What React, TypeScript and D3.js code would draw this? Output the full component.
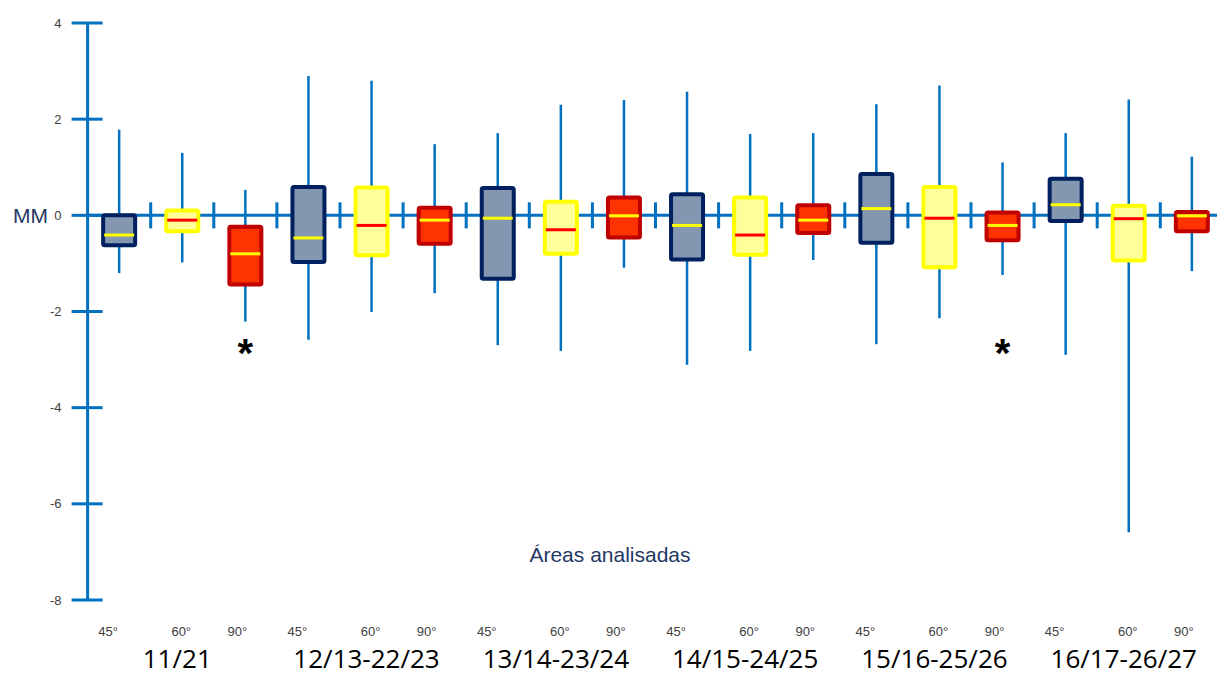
import React from "react";
import * as d3 from "d3";

// áreas analisadas e ângulos
const groups = ["11/21", "12/13-22/23", "13/14-23/24", "14/15-24/25", "15/16-25/26", "16/17-26/27"];
const angles = ["45°", "60°", "90°"];

// boxplot values, one per box (group x angle), in MM
const mins = [-1.2, -0.98, -2.21, -2.59, -2.01, -1.62, -2.7, -2.82, -1.09, -3.11, -2.82, -0.93, -2.68, -2.14, -1.24, -2.9, -6.59, -1.16];
const q1s = [-0.62, -0.33, -1.44, -0.97, -0.83, -0.59, -1.32, -0.8, -0.46, -0.92, -0.82, -0.37, -0.57, -1.08, -0.52, -0.12, -0.94, -0.33];
const medians = [-0.41, -0.1, -0.8, -0.47, -0.21, -0.1, -0.06, -0.3, -0.01, -0.21, -0.41, -0.1, 0.14, -0.06, -0.21, 0.22, -0.07, -0.01];
const q3s = [0.0, 0.1, -0.24, 0.59, 0.58, 0.16, 0.57, 0.28, 0.37, 0.44, 0.37, 0.21, 0.86, 0.59, 0.06, 0.76, 0.2, 0.07];
const maxs = [1.78, 1.3, 0.53, 2.9, 2.8, 1.48, 1.71, 2.3, 2.4, 2.57, 1.69, 1.71, 2.31, 2.7, 1.1, 1.71, 2.41, 1.22];

// boxes marked with *
const marked = [2, 14];
const yTicks = [4, 2, 0, -2, -4, -6, -8];

const styles: Record<string, { fill: string; stroke: string; median: string; labelDx: number }> = {
  "45°": { fill: "#8497B0", stroke: "#002060", median: "#FFFF00", labelDx: -11 },
  "60°": { fill: "#FFFF99", stroke: "#FFFF00", median: "#FF0000", labelDx: -1 },
  "90°": { fill: "#FF3300", stroke: "#C00000", median: "#FFFF00", labelDx: -8 },
};

const BLUE = "#0070C0";
const NAVY = "#1F3864";
const NARROW = "'Liberation Sans Narrow', 'Liberation Sans', sans-serif";

export default function App() {
  const width = 1217;
  const height = 675;
  const axisX = 87.6;

  const y = d3.scaleLinear().domain([-8, 4]).range([600, 23]);
  const keys = d3.range(mins.length);
  const x = d3.scaleBand<number>().domain(keys).range([axisX, axisX + 63.1 * keys.length]).padding(0);
  const bw = x.bandwidth();
  const boxW = 32;

  const angleOf = (i: number) => angles[i % angles.length];
  const center = (i: number) => (x(i) as number) + bw / 2;

  return (
    <div style={{ position: "absolute", left: 0, top: 0 }}>
      <svg width={width} height={height} style={{ display: "block", fontFamily: "'Liberation Sans', Arial, sans-serif" }}>
        {/* y axis */}
        <line x1={axisX} x2={axisX} y1={y(4)} y2={y(-8)} stroke={BLUE} strokeWidth={3} />
        {yTicks.map((t) => (
          <g key={t}>
            <line x1={axisX - 16} x2={axisX + 15} y1={y(t)} y2={y(t)} stroke={BLUE} strokeWidth={3} />
            <text x={axisX - 26} y={y(t)} dy="0.35em" textAnchor="end" fontSize={13} fill="#404040" style={{ fontFamily: NARROW }}>
              {t}
            </text>
          </g>
        ))}
        <text x={13} y={y(0)} dy="0.35em" fontSize={21} fill={NAVY}>
          MM
        </text>

        {/* x axis along zero */}
        <line x1={axisX} x2={width} y1={y(0)} y2={y(0)} stroke={BLUE} strokeWidth={3} />
        {keys.slice(1).map((i) => (
          <line key={i} x1={x(i)} x2={x(i)} y1={y(0) - 13} y2={y(0) + 13} stroke={BLUE} strokeWidth={3} />
        ))}

        {/* boxes */}
        {keys.map((i) => {
          const s = styles[angleOf(i)];
          const cx = center(i);
          return (
            <g key={i}>
              <line x1={cx} x2={cx} y1={y(maxs[i])} y2={y(mins[i])} stroke={BLUE} strokeWidth={2.5} />
              <rect
                x={cx - boxW / 2}
                y={y(q3s[i])}
                width={boxW}
                height={y(q1s[i]) - y(q3s[i])}
                fill={s.fill}
                stroke={s.stroke}
                strokeWidth={4}
                rx={1.5}
              />
              <line
                x1={cx - boxW / 2 + 1}
                x2={cx + boxW / 2 - 1}
                y1={y(medians[i])}
                y2={y(medians[i])}
                stroke={s.median}
                strokeWidth={3}
              />
            </g>
          );
        })}

        {/* significance markers */}
        {marked.map((i) => (
          <text key={i} x={center(i)} y={y(-2.45)} dy="0.85em" textAnchor="middle" fontSize={40} fontWeight="bold" fill="#000">
            *
          </text>
        ))}

        <text x={610} y={555} dy="0.35em" textAnchor="middle" fontSize={21} fill={NAVY}>
          Áreas analisadas
        </text>

        {/* angle labels */}
        {keys.map((i) => (
          <text
            key={i}
            x={center(i) + styles[angleOf(i)].labelDx}
            y={631}
            dy="0.35em"
            textAnchor="middle"
            fontSize={13}
            fill="#404040"
            style={{ fontFamily: NARROW }}
          >
            {angleOf(i)}
          </text>
        ))}

        {/* group labels, centred on the 60° box */}
        {groups.map((g, gi) => (
          <text
            key={g}
            x={center(gi * 3 + 1) - 5}
            y={668}
            textAnchor="middle"
            fontSize={26}
            fill="#000"
            style={{ fontFamily: "'Open Sans', 'Liberation Sans', sans-serif" }}
          >
            {g}
          </text>
        ))}
      </svg>
    </div>
  );
}
